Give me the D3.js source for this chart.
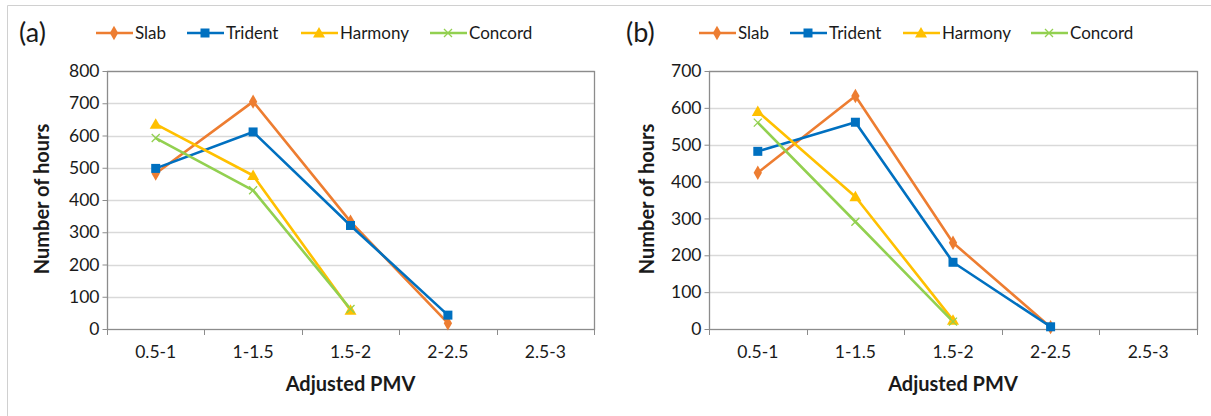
<!DOCTYPE html>
<html>
<head>
<meta charset="utf-8">
<script src="https://cdn.jsdelivr.net/npm/d3@7"></script>
<style>
  body { margin: 0; background: #fff; }
  text { font-family: Lato, "Open Sans", sans-serif; fill: #1a1a1a; }
</style>
</head>
<body>
<div id="chart"></div>
<script>
// categories on the x axis
var categories = ["0.5-1", "1-1.5", "1.5-2", "2-2.5", "2.5-3"]
var seriesNames = ["Slab", "Trident", "Harmony", "Concord"]

// panel (a) hours per PMV band
var slabA = [482, 705, 333, 18]
var tridentA = [498, 611, 321, 43]
var harmonyA = [635, 476, 58]
var concordA = [592, 430, 62]

// panel (b)
var slabB = [424, 632, 234, 5]
var tridentB = [482, 561, 181, 6]
var harmonyB = [590, 359, 24]
var concordB = [560, 291, 20]

var yTicksA = [0, 100, 200, 300, 400, 500, 600, 700, 800]
var yTicksB = [0, 100, 200, 300, 400, 500, 600, 700]

var colors = {Slab: "#ED7D31", Trident: "#0070C0", Harmony: "#FFC000", Concord: "#92D050"}
var symbols = {Slab: "diamond", Trident: "square", Harmony: "triangle", Concord: "cross"}

var svg = d3.select("#chart").append("svg")
    .attr("width", 1211)
    .attr("height", 416)

// light frame round the figure
svg.append("path")
    .attr("d", "M7.5,416 V5.5 H1211")
    .attr("fill", "none")
    .attr("stroke", "#d0d0d0")

function marker(g, kind, x, y, color) {
  if (kind == "diamond") {
    g.append("path").attr("d", d3.symbol(d3.symbolDiamond, 60)())
      .attr("transform", "translate(" + x + "," + y + ")").attr("fill", color)
  } else if (kind == "square") {
    g.append("rect").attr("x", x - 4.5).attr("y", y - 4.5).attr("width", 9).attr("height", 9).attr("fill", color)
  } else if (kind == "triangle") {
    g.append("path").attr("d", "M0,-6 L6,4.5 L-6,4.5 Z")
      .attr("transform", "translate(" + x + "," + y + ")").attr("fill", color)
  } else {
    g.append("path").attr("d", "M-4,-4 L4,4 M-4,4 L4,-4")
      .attr("transform", "translate(" + x + "," + y + ")")
      .attr("stroke", color).attr("stroke-width", 1.3).attr("fill", "none")
  }
}

function drawPanel(opts) {
  var g = svg.append("g")

  var x = d3.scaleBand().domain(categories).range([opts.left, opts.right])
  var y = d3.scaleLinear().domain([0, d3.max(opts.ticks)]).range([329, 71])

  // gridlines
  g.selectAll("line.grid").data(opts.ticks.slice(1)).enter().append("line")
    .attr("x1", opts.left).attr("x2", opts.right)
    .attr("y1", d => Math.round(y(d)) + 0.5).attr("y2", d => Math.round(y(d)) + 0.5)
    .attr("stroke", "#d9d9d9").attr("stroke-width", 1.3)

  // plot box
  g.append("rect")
    .attr("x", opts.left + 0.5).attr("y", 71.5)
    .attr("width", opts.right - opts.left).attr("height", 258)
    .attr("fill", "none").attr("stroke", "#8c8c8c").attr("stroke-width", 1.3)

  var yAxis = g.append("g")
    .attr("transform", "translate(" + (opts.left + 0.5) + ",0)")
    .call(d3.axisLeft(y).tickValues(opts.ticks).tickSize(5).tickPadding(3))
  yAxis.selectAll("text").style("font-size", "17.5px").attr("fill", "#1a1a1a")
  yAxis.selectAll("line").attr("stroke", "#8c8c8c")
  yAxis.select(".domain").remove()

  var xAxis = g.append("g")
    .attr("transform", "translate(0,329.5)")
    .call(d3.axisBottom(x).tickSize(0).tickPadding(16))
  xAxis.selectAll("text").style("font-size", "17.5px").attr("fill", "#1a1a1a")
  xAxis.select(".domain").remove()

  // ticks at band edges
  var edges = categories.map(c => x(c)).concat([opts.right])
  g.selectAll("line.xt").data(edges).enter().append("line")
    .attr("x1", d => Math.round(d) + 0.5).attr("x2", d => Math.round(d) + 0.5)
    .attr("y1", 329).attr("y2", 335)
    .attr("stroke", "#8c8c8c")

  // series
  var line = d3.line()
    .x((d, i) => x(categories[i]) + x.bandwidth() / 2)
    .y(d => y(d))

  opts.series.forEach(function(vals, si) {
    var name = seriesNames[si]
    g.append("path").datum(vals)
      .attr("d", line)
      .attr("fill", "none")
      .attr("stroke", colors[name])
      .attr("stroke-width", 2.6)
      .attr("stroke-linejoin", "round")
  })
  opts.series.forEach(function(vals, si) {
    var name = seriesNames[si]
    vals.forEach(function(v, i) {
      marker(g, symbols[name], x(categories[i]) + x.bandwidth() / 2, y(v), colors[name])
    })
  })

  // titles
  g.append("text")
    .attr("x", (opts.left + opts.right) / 2).attr("y", 384)
    .attr("text-anchor", "middle").attr("dy", "0.35em")
    .style("font-size", "20px").style("font-weight", "bold")
    .text("Adjusted PMV")

  g.append("text")
    .attr("transform", "translate(" + opts.ytitleX + ",199) rotate(-90)")
    .attr("text-anchor", "middle").attr("dy", "0.35em")
    .style("font-size", "20px").style("font-weight", "bold")
    .text("Number of hours")

  // panel letter
  g.append("text")
    .attr("x", opts.letterX).attr("y", 33).attr("dy", "0.35em")
    .style("font-size", "27px")
    .text(opts.letter)

  // legend
  seriesNames.forEach(function(name, i) {
    var lx = opts.legendX[i]
    g.append("line")
      .attr("x1", lx).attr("x2", lx + 37)
      .attr("y1", 33).attr("y2", 33)
      .attr("stroke", colors[name]).attr("stroke-width", 2.6)
    marker(g, symbols[name], lx + 18, 33, colors[name])
    g.append("text")
      .attr("x", lx + 39).attr("y", 33).attr("dy", "0.35em")
      .style("font-size", "17px")
      .text(name)
  })
}

drawPanel({
  left: 107, right: 594, ticks: yTicksA,
  series: [slabA, tridentA, harmonyA, concordA],
  ytitleX: 42, letter: "(a)", letterX: 19,
  legendX: [96, 187, 301, 430]
})

drawPanel({
  left: 709, right: 1197, ticks: yTicksB,
  series: [slabB, tridentB, harmonyB, concordB],
  ytitleX: 647, letter: "(b)", letterX: 626,
  legendX: [699, 790, 903, 1031]
})
</script>
</body>
</html>
